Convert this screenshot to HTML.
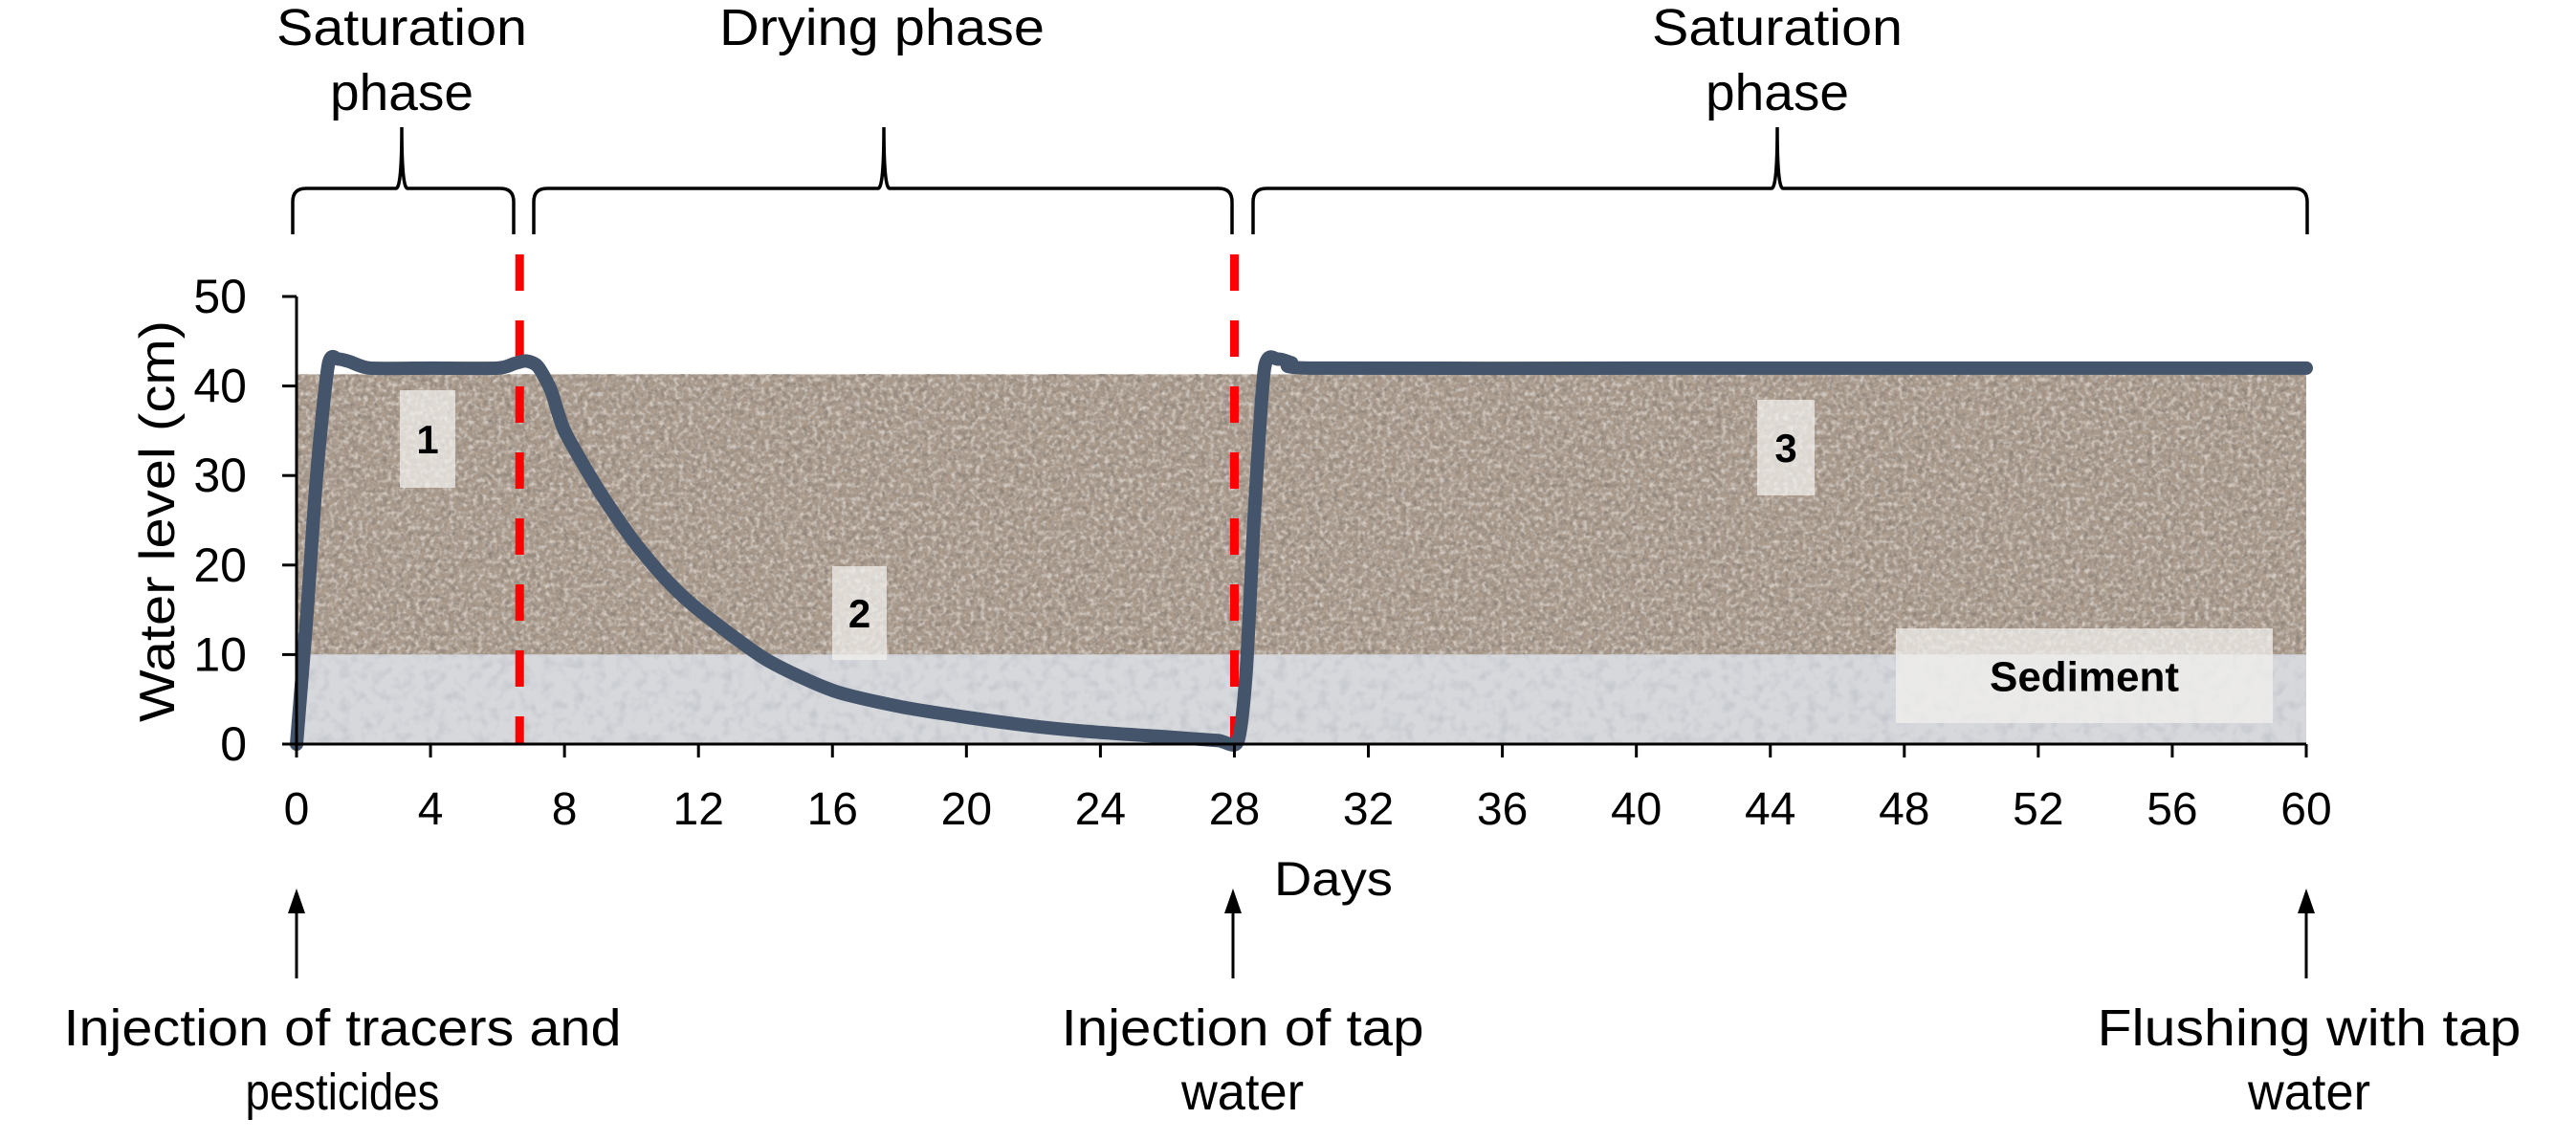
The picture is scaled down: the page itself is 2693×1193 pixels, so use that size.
<!DOCTYPE html>
<html><head><meta charset="utf-8"><style>
html,body{margin:0;padding:0;background:#fff;}
svg{display:block;font-family:"Liberation Sans",Arial,sans-serif;}
</style></head><body>
<svg id="chart" width="2693" height="1193" viewBox="0 0 2693 1193" xmlns="http://www.w3.org/2000/svg">
<defs>
<filter id="noiseB" x="0" y="0" width="100%" height="100%">
<feTurbulence type="fractalNoise" baseFrequency="0.18" numOctaves="2" seed="3" result="n"/>
<feColorMatrix type="matrix" values="0 0 0 0 0.25  0 0 0 0 0.21  0 0 0 0 0.18  0 0 0 -2.6 1.45"/>
</filter>
<filter id="noiseL" x="0" y="0" width="100%" height="100%">
<feTurbulence type="fractalNoise" baseFrequency="0.2" numOctaves="2" seed="11" result="n"/>
<feColorMatrix type="matrix" values="0 0 0 0 0.9  0 0 0 0 0.87  0 0 0 0 0.84  0 0 0 -2.6 1.45"/>
</filter>
<filter id="noiseG" x="0" y="0" width="100%" height="100%">
<feTurbulence type="fractalNoise" baseFrequency="0.09" numOctaves="2" seed="7" result="n"/>
<feColorMatrix type="matrix" values="0 0 0 0 0.5  0 0 0 0 0.52  0 0 0 0 0.56  0 0 0 -2.2 1.2"/>
</filter>
</defs>
<g id="bg"></g>
<g id="marks"></g>
<g id="axes"></g>
<g id="annot"></g>
</svg>
<script>
// ---- data ----
const days   = [0, 0.3, 0.6, 0.95, 1.25, 1.6, 2.2, 4, 6, 6.5, 6.85, 7.2, 7.6, 8, 9, 10, 11, 12, 14, 16, 18, 20, 22, 24, 26, 27.5, 28.1, 28.35, 28.6, 28.9, 29.3, 29.7, 30.3, 40, 50, 60];
const level  = [0, 14, 30, 42.4, 43, 42.7, 42, 42, 42, 42.5, 42.8, 42.2, 39.5, 35, 28.5, 23, 18.5, 15, 9.5, 6, 4.2, 3, 2, 1.3, 0.8, 0.4, 0.3, 8, 26, 42, 43, 42.6, 42, 42, 42, 42];
const xTicks = [0,4,8,12,16,20,24,28,32,36,40,44,48,52,56,60];
const yTicks = [0,10,20,30,40,50];
const phaseBounds = [6.66, 28];
const sandTop = 41.3, sedimentTop = 10;

const NS = "http://www.w3.org/2000/svg";
const X0 = 310, X1 = 2411, Y0 = 778, Y1 = 310;
const xs = d => X0 + (d - 0) / 60 * (X1 - X0);
const ys = v => Y0 - v / 50 * (Y0 - Y1);
function mk(tag, attrs, parent, text){ const e=document.createElementNS(NS,tag); for(const k in attrs) e.setAttribute(k,attrs[k]); if(text!==undefined) e.textContent=text; parent.appendChild(e); return e; }
const bg=document.getElementById('bg'), marks=document.getElementById('marks'), axes=document.getElementById('axes'), annot=document.getElementById('annot');

// backgrounds
let r=mk('rect',{x:X0,y:ys(sandTop),width:X1-X0,height:ys(sedimentTop)-ys(sandTop),fill:'#a99a8c'},bg);
 
mk('rect',{x:X0,y:ys(sandTop),width:X1-X0,height:ys(sedimentTop)-ys(sandTop),filter:'url(#noiseB)',opacity:0.8},bg);
mk('rect',{x:X0,y:ys(sandTop),width:X1-X0,height:ys(sedimentTop)-ys(sandTop),filter:'url(#noiseL)',opacity:0.6},bg);
r=mk('rect',{x:X0,y:ys(sedimentTop),width:X1-X0,height:ys(0)-ys(sedimentTop),fill:'#d6d8dc'},bg);
 
mk('rect',{x:X0,y:ys(sedimentTop),width:X1-X0,height:ys(0)-ys(sedimentTop),filter:'url(#noiseG)',opacity:0.7},bg);

// label boxes
function box(x,y,w,h,txt,size,name){ const g=mk('g',{},bg);
   
  mk('rect',{x:x,y:y,width:w,height:h,fill:'#f2f1ef','fill-opacity':0.72},g);
  mk('text',{x:x+w/2,y:y+h/2+size*0.36,'font-size':size,'font-weight':'bold','text-anchor':'middle',fill:'#000'},g,txt); }
box(418,408,58,102,'1',42,'phase-label-1');
box(870,592,57,98,'2',42,'phase-label-2');
box(1837,418,60,100,'3',42,'phase-label-3');
box(1982,657,394,99,'Sediment',44,'sediment-label');

// red dashed phase lines
phaseBounds.forEach(d=>{ const l=mk('line',{x1:xs(d),x2:xs(d),y1:266,y2:Y0,stroke:'#ff0000','stroke-width':9,'stroke-dasharray':'38 31'},marks);
    });

// water level curve
const pts=days.map((d,i)=>[xs(d),ys(level[i])]);
let dstr='M'+pts[0][0]+','+pts[0][1];
for(let i=0;i<pts.length-1;i++){const p0=pts[Math.max(0,i-1)],p1=pts[i],p2=pts[i+1],p3=pts[Math.min(pts.length-1,i+2)];const t=0.12;
 dstr+=` C${p1[0]+(p2[0]-p0[0])*t},${p1[1]+(p2[1]-p0[1])*t} ${p2[0]-(p3[0]-p1[0])*t},${p2[1]-(p3[1]-p1[1])*t} ${p2[0]},${p2[1]}`;}
const curve=mk('path',{d:dstr,fill:'none',stroke:'#44546a','stroke-width':14,'stroke-linejoin':'round','stroke-linecap':'round'},marks);
 

// axes
mk('line',{x1:X0,x2:X0,y1:Y1,y2:Y0,stroke:'#000','stroke-width':3},axes);
mk('line',{x1:X0,x2:X1,y1:Y0,y2:Y0,stroke:'#000','stroke-width':3},axes);
xTicks.forEach(t=>{ mk('line',{x1:xs(t),x2:xs(t),y1:Y0,y2:Y0+14,stroke:'#000','stroke-width':3},axes);
  const tx=mk('text',{x:xs(t),y:862,'font-size':48,'text-anchor':'middle'},axes,String(t));
    });
yTicks.forEach(t=>{ mk('line',{x1:X0-15,x2:X0,y1:ys(t),y2:ys(t),stroke:'#000','stroke-width':3},axes);
  const tx=mk('text',{x:258,y:ys(t)+17,'font-size':50,'text-anchor':'end'},axes,String(t));
    });
let t=mk('text',{x:1394,y:936,'font-size':50,'text-anchor':'middle',textLength:124,lengthAdjust:'spacingAndGlyphs'},axes,'Days');
 
t=mk('text',{x:0,y:0,'font-size':52,'text-anchor':'middle',transform:'translate(182,545) rotate(-90)',textLength:420,lengthAdjust:'spacingAndGlyphs'},axes,'Water level (cm)');
 

// text helper
function txt(x,y,s,w,name){ const e=mk('text',{x:x,y:y,'font-size':54,'text-anchor':'middle',textLength:w,lengthAdjust:'spacingAndGlyphs'},annot,s);
    }
// brackets
function brace(a,b,tip,name){ const y=197, yb=245, yt=133;
  const d=`M${a},${yb} L${a},${y+14} Q${a},${y} ${a+14},${y} L${tip-6},${y} Q${tip},${y} ${tip},${yt} Q${tip},${y} ${tip+6},${y} L${b-14},${y} Q${b},${y} ${b},${y+14} L${b},${yb}`;
  const p=mk('path',{d:d,fill:'none',stroke:'#000','stroke-width':3.5},annot);
    }
brace(306,537,420,'bracket-saturation-1');
brace(558,1288,924,'bracket-drying');
brace(1310,2412,1858,'bracket-saturation-2');
txt(420,47,'Saturation',262,'phase-title-saturation-1');
txt(420,115,'phase',150,'phase-title-saturation-1-line2');
txt(922,47,'Drying phase',340,'phase-title-drying');
txt(1858,47,'Saturation',262,'phase-title-saturation-2');
txt(1858,115,'phase',150,'phase-title-saturation-2-line2');

// arrows
[310,1289,2411].forEach(x=>{ const g=mk('g',{},annot);
   
  mk('line',{x1:x,x2:x,y1:950,y2:1023,stroke:'#000','stroke-width':3},g);
  mk('polygon',{points:`${x-9},${955} ${x+9},${955} ${x},${929}`,fill:'#000'},g); });
txt(358,1093,'Injection of tracers and',583,'event-label-injection-tracers');
txt(358,1160,'pesticides',203,'event-label-injection-tracers-line2');
txt(1299,1093,'Injection of tap',379,'event-label-injection-tap');
txt(1299,1160,'water',128,'event-label-injection-tap-line2');
txt(2414,1093,'Flushing with tap',443,'event-label-flushing');
txt(2414,1160,'water',128,'event-label-flushing-line2');
</script>
</body></html>
